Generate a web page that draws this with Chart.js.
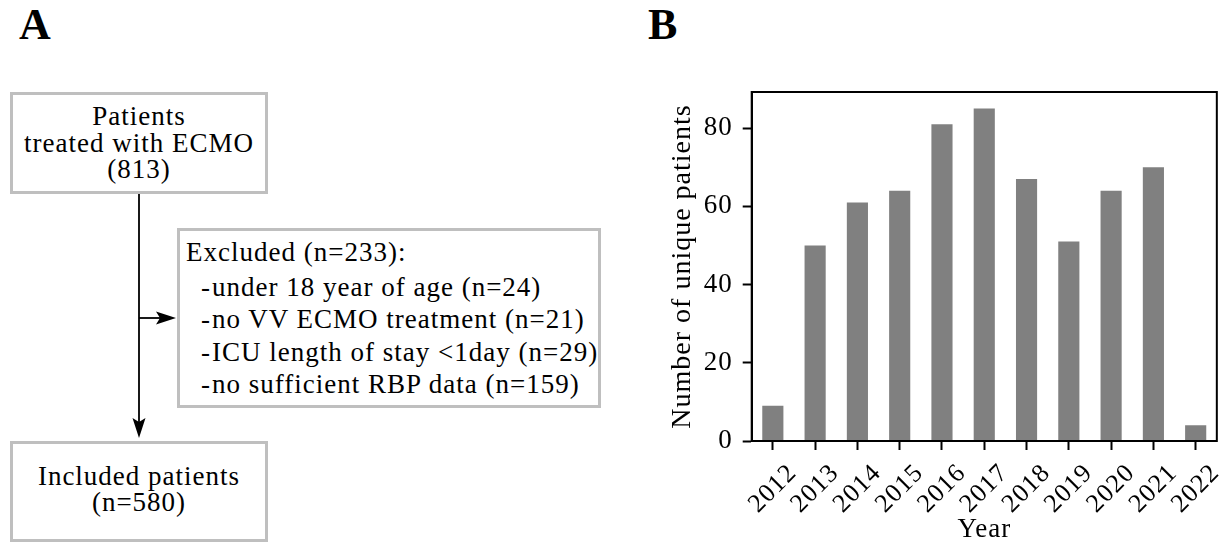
<!DOCTYPE html>
<html>
<head>
<meta charset="utf-8">
<script src="https://cdn.jsdelivr.net/npm/chart.js@4.4.0/dist/chart.umd.min.js"></script>
<style>
  html, body { margin: 0; padding: 0; background: #fff; }
  body {
    width: 1226px; height: 546px; position: relative; overflow: hidden;
    font-family: 'Liberation Serif', serif; color: #000;
  }
  .panel { position: absolute; font-weight: bold; font-size: 44px; line-height: 44px; }
  .box {
    position: absolute; box-sizing: border-box; border: 3px solid #bfbfbf;
    font-size: 27px; letter-spacing: 1px; background: #fff;
  }
  .centered {
    display: flex; flex-direction: column; justify-content: center;
    align-items: center; text-align: center; line-height: 26.5px;
  }
  #excl { padding: 5px 0 0 6px; line-height: 32.5px; white-space: nowrap; }
  #excl .head { margin-bottom: 2px; }
  #excl .item { padding-left: 15px; }
  #excl .dash { display: inline-block; width: 11px; }
  svg { position: absolute; left: 0; top: 0; }
  #chartB { position: absolute; left: 640px; top: 0; }
</style>
</head>
<body>

<div class="panel" style="left:19px; top:3px;">A</div>
<div class="panel" style="left:648px; top:3px;">B</div>

<!-- flow diagram (panel A) -->
<svg width="1226" height="546">
  <line x1="139" y1="194" x2="139" y2="424" stroke="#000" stroke-width="1.8"/>
  <polygon points="139,438 132.5,418 139,422 145.5,418" fill="#000"/>
  <line x1="139" y1="318" x2="163" y2="318" stroke="#000" stroke-width="1.8"/>
  <polygon points="176,318 156,311.5 160,318 156,324.5" fill="#000"/>
</svg>

<div class="box centered" style="left:10px; top:92px; width:258px; height:102px;">
  <div>Patients</div>
  <div>treated with ECMO</div>
  <div>(813)</div>
</div>

<div class="box" id="excl" style="left:177px; top:228px; width:424px; height:180px;">
  <div class="head">Excluded (n=233):</div>
  <div class="item"><span class="dash">-</span>under 18 year of age (n=24)</div>
  <div class="item"><span class="dash">-</span>no VV ECMO treatment (n=21)</div>
  <div class="item"><span class="dash">-</span>ICU length of stay &lt;1day (n=29)</div>
  <div class="item"><span class="dash">-</span>no sufficient RBP data (n=159)</div>
</div>

<div class="box centered" style="left:10px; top:441px; width:258px; height:101px; padding-bottom:5px;">
  <div>Included patients</div>
  <div>(n=580)</div>
</div>

<!-- bar chart (panel B) -->
<canvas id="chartB" width="586" height="546"></canvas>

<script>
const years = ['2012', '2013', '2014', '2015', '2016', '2017', '2018', '2019', '2020', '2021', '2022']
const patients = [9, 50, 61, 64, 81, 85, 67, 51, 64, 70, 4]
const yTickValues = [0, 20, 40, 60, 80]
const yMax = 89.25

const serif = "'Liberation Serif', serif"

// closed box around the plot area, like matplotlib spines
const framePlugin = {
  id: 'frame',
  beforeLayout(chart) {
    chart.ctx.letterSpacing = '1px'
  },
  beforeDraw(chart) {
    chart.ctx.letterSpacing = '1px'
  },
  afterDraw(chart) {
    const { ctx, chartArea: a } = chart
    ctx.save()
    ctx.strokeStyle = '#000'
    ctx.lineWidth = 2
    ctx.strokeRect(a.left, a.top, a.right - a.left, a.bottom - a.top)
    ctx.restore()
  },
}

const barConfig = {
  type: 'bar',
  data: {
    labels: years,
    datasets: [
      {
        data: patients,
        backgroundColor: '#808080',
        borderWidth: 0,
        barPercentage: 0.5,
        categoryPercentage: 1.0,
      },
    ],
  },
  options: {
    responsive: false,
    animation: false,
    layout: { padding: { left: 26, right: 5.7, top: 92, bottom: 0 } },
    plugins: {
      legend: { display: false },
      tooltip: { enabled: false },
    },
    scales: {
      x: {
        offset: true,
        grid: {
          offset: false,
          drawOnChartArea: false,
          drawTicks: true,
          tickLength: 9,
          tickWidth: 2,
          tickColor: '#000',
        },
        border: { display: true, color: '#000', width: 2 },
        ticks: {
          color: '#000',
          font: { family: serif, size: 26 },
          minRotation: 45,
          maxRotation: 45,
          autoSkip: false,
          labelOffset: 20,
          padding: 8,
        },
        title: {
          display: true,
          text: 'Year',
          color: '#000',
          font: { family: serif, size: 27 },
          padding: { top: 0, bottom: 0 },
        },
        afterFit: (s) => { s.height = 105 },
      },
      y: {
        min: 0,
        max: yMax,
        afterBuildTicks: (s) => { s.ticks = yTickValues.map((v) => ({ value: v })) },
        grid: {
          drawOnChartArea: false,
          drawTicks: true,
          tickLength: 9,
          tickWidth: 2,
          tickColor: '#000',
        },
        border: { display: true, color: '#000', width: 2 },
        ticks: {
          color: '#000',
          font: { family: serif, size: 27 },
          padding: 10,
        },
        title: {
          display: true,
          text: 'Number of unique patients',
          color: '#000',
          font: { family: serif, size: 28 },
          padding: { top: 0, bottom: 0 },
        },
        afterFit: (s) => { s.width = 85.7 },
      },
    },
  },
  plugins: [framePlugin],
}

const barCtx = document.getElementById('chartB')
window.myBar = new Chart(barCtx, barConfig)
</script>
</body>
</html>
